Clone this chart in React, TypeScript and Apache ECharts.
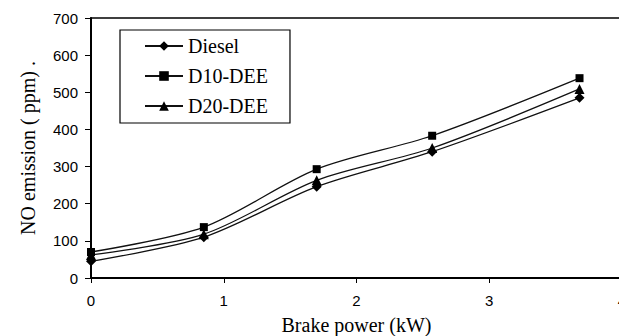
import React, { useEffect, useRef } from "react";
import * as echarts from "echarts";

const brakePower = [0, 0.85, 1.7, 2.57, 3.68];
const diesel = [45, 110, 246, 340, 485];
const d10dee = [70, 137, 293, 383, 538];
const d20dee = [62, 118, 263, 350, 509];
const seriesNames = ["Diesel", "D10-DEE", "D20-DEE"];
const symbols = ["diamond", "rect", "triangle"];
const symbolSizes = [10, 8, 10];

const SERIF = "Liberation Serif";
const SANS = "Liberation Sans";

export default function App() {
  const ref = useRef<HTMLDivElement>(null);
  useEffect(() => {
    if (!ref.current) return;
    const chart = echarts.init(ref.current, undefined, { renderer: "svg" });
    const datasets = [diesel, d10dee, d20dee];
    chart.setOption({
      animation: false,
      backgroundColor: "#fff",
      grid: {
        left: 91,
        right: -3,
        top: 18,
        bottom: 58,
        outerBoundsMode: "none",
        containLabel: false,
        show: true,
        borderColor: "#000",
        borderWidth: 1.5,
      },
      legend: {
        orient: "vertical",
        left: 120,
        top: 30,
        padding: [6, 22, 7, 24],
        itemGap: 10,
        itemWidth: 38,
        itemHeight: 12,
        borderColor: "#000",
        borderWidth: 1.2,
        backgroundColor: "#fff",
        textStyle: { fontFamily: SERIF, fontSize: 20, color: "#000", lineHeight: 20 },
        data: seriesNames,
      },
      xAxis: {
        type: "value",
        min: 0,
        max: 4,
        interval: 1,
        name: "Brake power (kW)",
        nameLocation: "middle",
        nameGap: 37,
        nameTextStyle: { fontFamily: SERIF, fontSize: 20, color: "#000" },
        axisLine: { show: true, lineStyle: { color: "#000", width: 2 } },
        axisTick: { show: true, inside: false, length: 5, lineStyle: { color: "#000" } },
        axisLabel: { margin: 15, fontFamily: SANS, fontSize: 15, color: "#000" },
        splitLine: { show: false },
      },
      yAxis: {
        type: "value",
        min: 0,
        max: 700,
        interval: 100,
        name: "NO emission ( ppm) .",
        nameLocation: "middle",
        nameGap: 53,
        nameTextStyle: { fontFamily: SERIF, fontSize: 20, color: "#000" },
        axisLine: { show: true, lineStyle: { color: "#000", width: 2 } },
        axisTick: { show: true, inside: false, length: 6, lineStyle: { color: "#000" } },
        axisLabel: { margin: 13, fontFamily: SANS, fontSize: 15, color: "#000" },
        splitLine: { show: false },
      },
      series: datasets.map((vals, i) => ({
        name: seriesNames[i],
        type: "line",
        smooth: 0.3,
        symbol: symbols[i],
        symbolSize: symbolSizes[i],
        data: brakePower.map((x, j) => [x, vals[j]]),
        lineStyle: { color: "#111", width: 1.3 },
        itemStyle: { color: "#000" },
      })),
    });
    return () => chart.dispose();
  }, []);
  return <div ref={ref} style={{ width: 619, height: 336, position: "absolute", left: 0, top: 0 }} />;
}
